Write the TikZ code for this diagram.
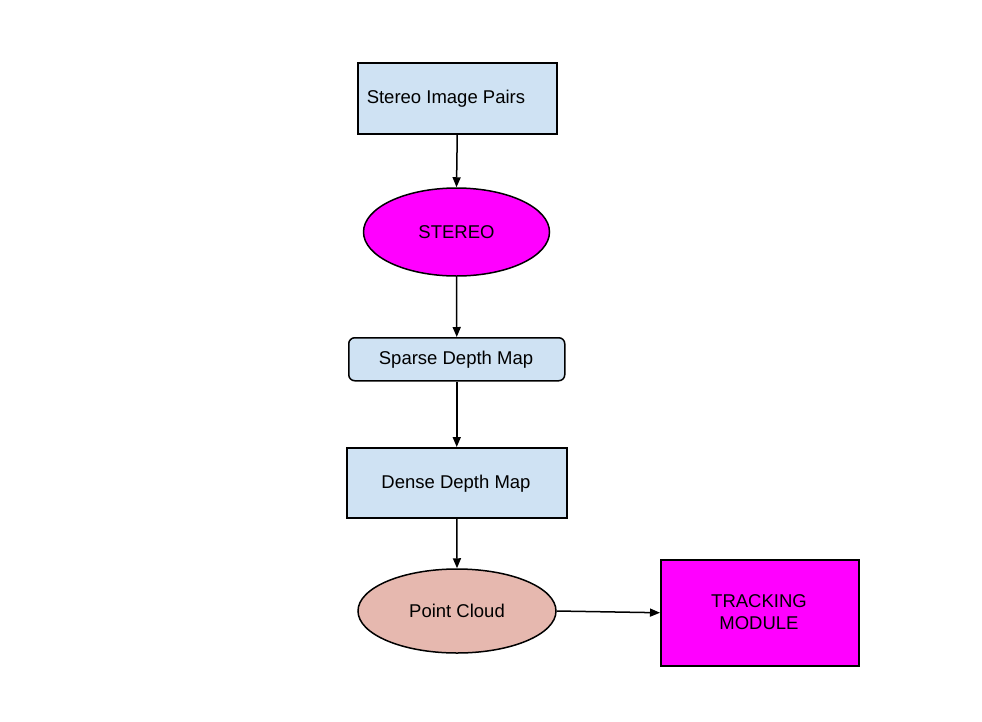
\documentclass[tikz,border=0pt]{standalone}
\usepackage{fontspec}
\setmainfont{Liberation Sans}
\usetikzlibrary{arrows.meta,shapes.geometric}
\definecolor{boxblue}{HTML}{CFE2F3}
\definecolor{mag}{HTML}{FF00FF}
\definecolor{pink}{HTML}{E6B8AF}
\begin{document}
\begin{tikzpicture}[x=1pt,y=-1pt,
  every node/.style={font=\fontsize{18.5}{21.5}\selectfont, draw=black, line width=1.5pt, inner sep=0pt},
  rbox/.style={rectangle, anchor=north west},
  oval/.style={ellipse},
  conn/.style={line width=1.5pt, -{Triangle[length=10pt,width=8pt]}}]
\useasboundingbox (0,0) rectangle (982,721);
\node[rbox, fill=boxblue, minimum width=199pt, minimum height=71pt] (pairs) at (357,62) {};
\node[draw=none, anchor=west] (pairsT) at (366,99) {Stereo Image Pairs};
\node[oval, fill=mag, minimum width=186pt, minimum height=88pt] (stereo) at (456.5,232) {STEREO};
\node[rbox, fill=boxblue, rounded corners=6pt, minimum width=216pt, minimum height=43pt] (sparse) at (348,337) {};
\node[draw=none] (sparseT) at (456,360) {Sparse Depth Map};
\node[rbox, fill=boxblue, minimum width=220pt, minimum height=70pt] (dense) at (346,447) {};
\node[draw=none] (denseT) at (456,484) {Dense Depth Map};
\node[oval, fill=pink, minimum width=198pt, minimum height=84pt] (cloud) at (457,611) {Point Cloud};
\node[rbox, fill=mag, minimum width=198pt, minimum height=106pt] (track) at (660,559) {};
\node[draw=none, align=center] (trackT) at (759,612) {TRACKING\\MODULE};
\draw[conn] (pairs.south) -- (stereo.north);
\draw[conn] (stereo.south) -- (sparse.north);
\draw[conn] (sparse.south) -- (dense.north);
\draw[conn] (dense.south) -- (cloud.north);
\draw[conn] (cloud.east) -- (track.west);
\end{tikzpicture}
\end{document}
